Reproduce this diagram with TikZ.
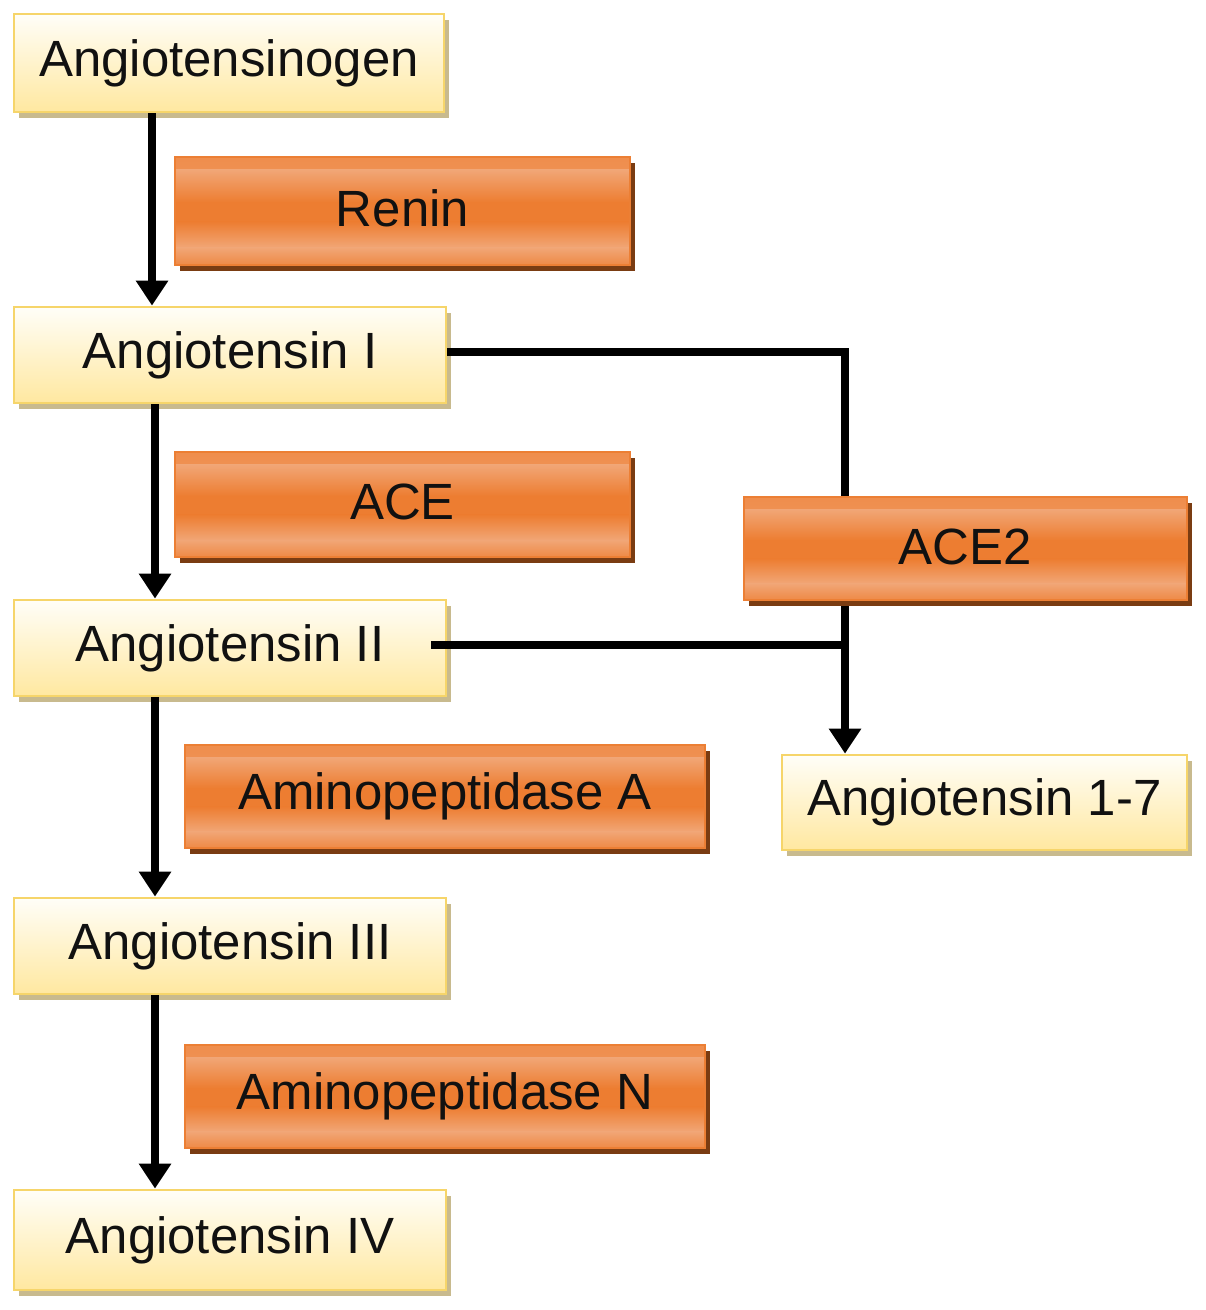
\documentclass[tikz,border=0pt]{standalone}
\usepackage{fontspec}
\setmainfont{Liberation Sans}
\usetikzlibrary{arrows.meta,shadows,calc}
\definecolor{ybord}{HTML}{F6D56A}
\definecolor{ytop}{HTML}{FFFEF8}
\definecolor{ybot}{HTML}{FFE8A0}
\definecolor{yshad}{HTML}{C8BA8E}
\definecolor{obord}{HTML}{EC7F34}
\definecolor{otop}{HTML}{F1A676}
\definecolor{omid}{HTML}{ED7D31}
\definecolor{oshad}{HTML}{7A3C12}
\definecolor{ink}{HTML}{111111}
\newcommand{\ppb}[1]{($(path picture bounding box.north west)!#1!(path picture bounding box.south west)$)}
\newcommand{\ppe}[1]{($(path picture bounding box.north east)!#1!(path picture bounding box.south east)$)}
\begin{document}
\begin{tikzpicture}[x=0.02cm,y=-0.02cm,
  subst/.style={draw=ybord, line width=1.6pt, top color=ytop, bottom color=ybot,
    drop shadow={shadow xshift=0.1cm, shadow yshift=-0.12cm, fill=yshad, opacity=1},
    font=\fontsize{29}{34}\selectfont, text=ink, inner sep=0pt},
  enz/.style={draw=obord, line width=1.2pt, fill=omid,
    drop shadow={shadow xshift=0.1cm, shadow yshift=-0.12cm, fill=oshad, opacity=1},
    path picture={
      \shade[top color=omid!60!otop, bottom color=otop] \ppb{0} rectangle \ppe{0.12};
      \shade[top color=otop, bottom color=omid] \ppb{0.12} rectangle \ppe{0.42};
      \fill[omid] \ppb{0.42} rectangle \ppe{0.6};
      \shade[top color=omid, bottom color=otop] \ppb{0.6} rectangle \ppe{0.84};
      \shade[top color=otop, bottom color=omid!70!otop] \ppb{0.84} rectangle \ppe{1};
    },
    font=\fontsize{29}{34}\selectfont, text=ink, inner sep=0pt},
  conn/.style={draw=black, line width=4.5pt},
  arr/.style={conn, -{Triangle[length=0.5cm,width=0.62cm]}}]
\useasboundingbox (0,0) rectangle (1205,1310);

% substances
\node[subst, minimum width=8.6cm, minimum height=1.96cm] (agn) at (229,63) {Angiotensinogen};
\node[subst, minimum width=8.64cm, minimum height=1.92cm] (a1) at (230,355) {Angiotensin I};
\node[subst, minimum width=8.64cm, minimum height=1.92cm] (a2) at (230,648) {Angiotensin II};
\node[subst, minimum width=8.64cm, minimum height=1.92cm] (a3) at (230,946) {Angiotensin III};
\node[subst, minimum width=8.64cm, minimum height=2.0cm] (a4) at (230,1240) {Angiotensin IV};
\node[subst, minimum width=8.1cm, minimum height=1.9cm] (a17) at (984.5,802.5) {Angiotensin 1-7};

% enzymes
\node[enz, minimum width=9.1cm, minimum height=2.16cm] (renin) at (402.5,211) {\raisebox{0.12cm}{Renin}};
\node[enz, minimum width=9.1cm, minimum height=2.1cm] (ace) at (402.5,504.5) {\raisebox{0.1cm}{ACE}};
\node[enz, minimum width=8.86cm, minimum height=2.06cm] (ace2) at (965.5,548.5) {\raisebox{0.06cm}{ACE2}};
\node[enz, minimum width=10.4cm, minimum height=2.06cm] (apa) at (445,796.5) {Aminopeptidase A};
\node[enz, minimum width=10.4cm, minimum height=2.06cm] (apn) at (445,1096.5) {Aminopeptidase N};

% connectors
\draw[arr] ([xshift=-1.56cm]a1.north |- agn.south) -- ([xshift=-1.56cm]a1.north);
\draw[arr] ([xshift=-1.5cm]a1.south) -- ([xshift=-1.5cm]a2.north);
\draw[arr] ([xshift=-1.5cm]a2.south) -- ([xshift=-1.5cm]a3.north);
\draw[arr] ([xshift=-1.5cm]a3.south) -- ([xshift=-1.5cm]a4.north);
\draw[conn] ([yshift=0.06cm]a1.east) -| ([xshift=-2.41cm]ace2.north);
\draw[arr] ([xshift=-2.41cm,yshift=-0.1cm]ace2.south) -- ([xshift=-2.41cm]ace2.south |- a17.north);
\draw[conn] ([xshift=-0.32cm,yshift=0.06cm]a2.east) -- ([xshift=-2.41cm,yshift=0.06cm]ace2.south |- a2.east);
\end{tikzpicture}
\end{document}
